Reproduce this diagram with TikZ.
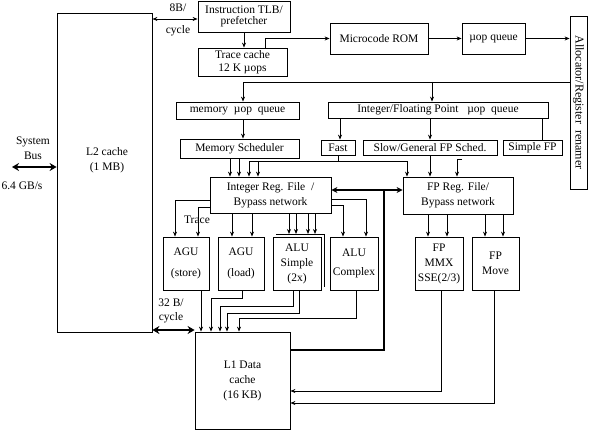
\documentclass[tikz,border=0pt]{standalone}
\usepackage{fontspec}
\usepackage{graphicx}
\setmainfont{Liberation Serif}
\usetikzlibrary{positioning, arrows.meta, calc}

\begin{document}
\begin{tikzpicture}[
    x=1pt, y=-1pt,
    >={Stealth[length=5pt, width=4pt]},
    unit/.style={rectangle, draw, line width=0.8pt, inner sep=0pt, align=center,
            font=\fontsize{11.5}{15}\selectfont, fill=white},
    lbl/.style={inner sep=0pt, align=center, font=\fontsize{11.5}{15}\selectfont},
    arrow/.style={->, line width=0.8pt},
    wire/.style={line width=0.8pt},
    bus/.style={<->, line width=2.6pt, >={Stealth[length=7pt, width=8pt]}},
    ]
    \useasboundingbox (0,0) rectangle (593,430);

    % front end
    \node[unit, minimum width=95pt, minimum height=319pt] (l2) at (104.5,172.5) {};
    \node[lbl] (l2txt) at (107,160) {L2 cache\\(1 MB)};
    \node[unit, minimum width=92pt, minimum height=31pt] (itlb) at (244,16.5) {Instruction TLB/\\[-4pt]prefetcher};
    \node[unit, minimum width=89pt, minimum height=28pt] (trace) at (242.5,62) {Trace cache\\[-2pt]12 K µops};
    \node[unit, minimum width=98pt, minimum height=31pt] (ucrom) at (379,38.5) {Microcode ROM};
    \node[unit, minimum width=63pt, minimum height=31pt] (uopq) at (493.5,38.5) {µop queue};
    \node[unit, minimum width=17pt, minimum height=173pt] (alloc) at (578.5,102.5)
        {\rotatebox{-90}{\fontsize{12}{14}\selectfont Allocator/Register\ \ renamer}};

    % queues and schedulers
    \node[unit, minimum width=123pt, minimum height=17pt] (memq) at (237.5,110.5) {memory\ \ µop\ \ queue};
    \node[unit, minimum width=220pt, minimum height=16pt] (ifq) at (438,110) {Integer/Floating Point\ \ \ µop\ \ queue};
    \node[unit, minimum width=119pt, minimum height=19pt] (memsch) at (239.5,148.5) {Memory Scheduler};
    \node[unit, minimum width=34pt, minimum height=15pt] (fast) at (338,147.5) {Fast};
    \node[unit, minimum width=134pt, minimum height=15pt] (slow) at (430,147.5) {Slow/General FP Sched.};
    \node[unit, minimum width=59pt, minimum height=15pt] (simfp) at (532.5,147.5) {Simple FP};

    % register files
    \node[unit, minimum width=121pt, minimum height=36pt] (intreg) at (270.5,195) {Integer Reg. File\ \ /\\Bypass network};
    \node[unit, minimum width=110pt, minimum height=37pt] (fpreg) at (458,195.5) {FP Reg. File/\\Bypass network};

    % execution units
    \node[unit, minimum width=46pt, minimum height=53pt] (agus) at (186,263.5) {AGU\\[6pt](store)};
    \node[unit, minimum width=46pt, minimum height=53pt] (agul) at (241,263.5) {AGU\\[6pt](load)};
    \draw[wire] ([xshift=3pt, yshift=3pt]273,237) -- ([xshift=3pt, yshift=3pt]321,237) -- ([xshift=3pt, yshift=3pt]321,290);
    \node[unit, minimum width=48pt, minimum height=53pt] (alus) at (297,263.5) {ALU\\Simple\\(2x)};
    \node[unit, minimum width=48pt, minimum height=53pt] (aluc) at (354,263.5) {ALU\\[4pt]Complex};
    \node[unit, minimum width=48pt, minimum height=53pt] (fpmmx) at (439,263.5) {FP\\MMX\\SSE(2/3)};
    \node[unit, minimum width=47pt, minimum height=53pt] (fpmove) at (495.5,263.5) {FP\\Move};
    \node[unit, minimum width=95pt, minimum height=97pt] (l1) at (242.5,380.5) {L1 Data\\cache\\(16 KB)};

    % labels
    \node[lbl] (sysbus) at (33,148) {System\\Bus};
    \node[lbl] (rate) at (22,186) {6.4 GB/s};
    \node[lbl] (w8) at (178,20) {8B/\\[7pt]cycle};
    \node[lbl] (w32) at (171,311) {32 B/\\[-1pt]cycle};
    \node[lbl] (trlbl) at (197,220) {Trace};

    % buses
    \coordinate (sb) at (12,167);
    \draw[bus] (sb) -- (sb -| l2.west);
    \draw[bus] (l2.east |- 0,330) -- (l1.west |- 0,330);
    \coordinate (c8) at (itlb.west |- 0,19);
    \draw[<->, line width=0.8pt] (c8 -| l2.east) -- (c8);

    % front end flow
    \draw[arrow] (244,0 |- itlb.south) -- (244,0 |- trace.north);
    \draw[arrow] (265,0 |- trace.north) |- (ucrom.west);
    \draw[arrow] (ucrom) -- (uopq);
    \draw[arrow] (uopq.east) -- (uopq.east -| alloc.west);
    \coordinate (ab) at (alloc.west |- 0,82);
    \draw[arrow] (ab) -| (243,0 |- memq.north);
    \draw[arrow] (432,0 |- ab) -- (432,0 |- ifq.north);
    \draw[arrow] (243,0 |- memq.south) -- (243,0 |- memsch.north);
    \draw[arrow] (340,0 |- ifq.south) -- (340,0 |- fast.north);
    \draw[arrow] (slow.north |- ifq.south) -- (slow.north);
    \draw[wire] (542,0 |- ifq.south) -- (542,0 |- simfp.north);

    % schedulers to register files
    \foreach \x in {230,239}
    \draw[arrow] (\x,0 |- memsch.south) -- (\x,0 |- intreg.north);
    \coordinate (fj) at (fast.south |- 0,161);
    \draw[wire] (fast.south) -- (fj);
    \draw[arrow] (fj) -| (249,0 |- intreg.north);
    \draw[arrow] (258,0 |- fj) -- (258,0 |- intreg.north);
    \draw[arrow] (fj) -| (407,0 |- fpreg.north);
    \draw[arrow] (slow.south) -- (slow.south |- fpreg.north);
    \coordinate (sfp) at (462,159);
    \draw[arrow] (sfp) -| (457,0 |- fpreg.north);

    % load/store path between register files and L1
    \coordinate (tj) at (384,190);
    \draw[line width=2.6pt] (l1.east |- 0,350) -| (tj);
    \draw[line width=2.6pt, ->, >={Stealth[length=6pt, width=6pt]}] (tj) -- (intreg.east |- tj);
    \draw[line width=2.6pt, ->, >={Stealth[length=6pt, width=6pt]}] (tj) -- (fpreg.west |- tj);

    % register files to units
    \draw[arrow] (intreg.west |- 0,200) -| (175,0 |- agus.north);
    \draw[arrow] (intreg.west |- 0,207) -| (198,0 |- agus.north);
    \foreach \x in {232,252}
    \draw[arrow] (\x,0 |- intreg.south) -- (\x,0 |- agul.north);
    \foreach \x in {289,296,308,315}
    \draw[arrow] (\x,0 |- intreg.south) -- (\x,234);
    \draw[arrow] (intreg.east |- 0,205) -| (343,0 |- aluc.north);
    \draw[arrow] (intreg.east |- 0,199) -| (366,0 |- aluc.north);
    \foreach \x in {428,447}
    \draw[arrow] (\x,0 |- fpreg.south) -- (\x,0 |- fpmmx.north);
    \foreach \x in {485,503}
    \draw[arrow] (\x,0 |- fpreg.south) -- (\x,0 |- fpmove.north);

    % units to L1
    \draw[arrow] (201,0 |- agus.south) -- (201,0 |- l1.north);
    \draw[arrow] (242,0 |- agul.south) |- (211,298) -- (211,0 |- l1.north);
    \draw[arrow] (293,0 |- alus.south) |- (220,306) -- (220,0 |- l1.north);
    \draw[arrow] (299,0 |- alus.south) |- (227,313) -- (227,0 |- l1.north);
    \draw[arrow] (356,0 |- aluc.south) |- (239,318) -- (239,0 |- l1.north);
    \draw[arrow] (441,0 |- fpmmx.south) |- (l1.east |- 0,391);
    \draw[arrow] (494,0 |- fpmove.south) |- (l1.east |- 0,403);

\end{tikzpicture}
\end{document}
